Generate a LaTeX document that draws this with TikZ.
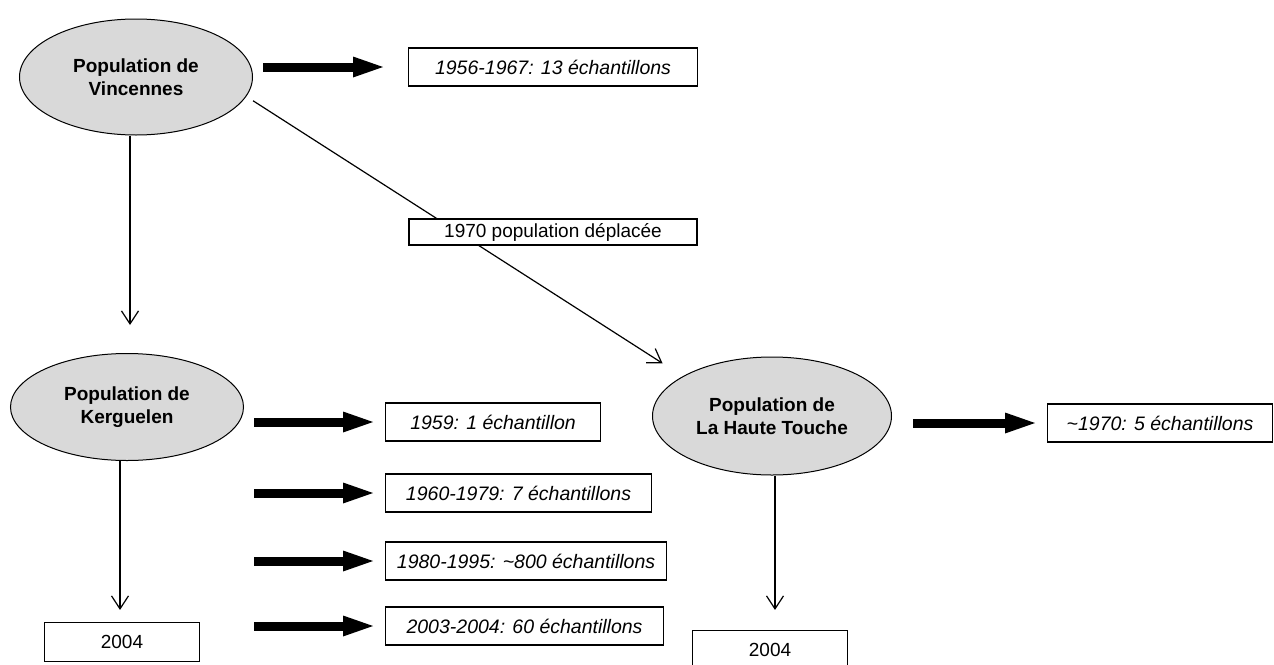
\documentclass[tikz,border=0pt]{standalone}
\usepackage{fontspec}
\setmainfont{Liberation Sans}
\usetikzlibrary{arrows.meta,positioning,shapes.geometric}
\definecolor{PopFill}{HTML}{D9D9D9}
\tikzset{pop/.style={ellipse,draw=black,line width=1pt,fill=PopFill,inner sep=0pt,
 align=center,font=\fontsize{19}{23}\selectfont\bfseries},
 sample/.style={draw,line width=1.1pt,fill=white,minimum height=38pt,anchor=west,
 font=\fontsize{19.5}{23}\selectfont\itshape},
 plain/.style={draw,line width=1.1pt,fill=white,font=\fontsize{19}{23}\selectfont},
 fat/.style={line width=9pt,-{Triangle[length=30pt,width=21pt,line width=0pt]}},
 link/.style={line width=1.2pt,-{Straight Barb[length=13pt,width=17pt]}}}
\begin{document}
\begin{tikzpicture}[x=1pt,y=-1pt]
\useasboundingbox (0,0) rectangle (1274,664);
\node[pop,minimum width=233pt,minimum height=116pt] (vin) at (136,77) {Population de\\Vincennes};
\node[pop,minimum width=233pt,minimum height=107pt] (ker) at (127,407) {Population de\\Kerguelen};
\node[pop,minimum width=239pt,minimum height=118pt] (tou) at (772,416) {Population de\\La Haute Touche};
% echantillons
\node[sample,minimum width=289pt] (s56) at (408,67) {1956-1967: 13 échantillons};
\node[sample,minimum width=215pt] (s59) at (385,422) {1959: 1 échantillon};
\node[sample,minimum width=266pt] (s60) at (385,493) {1960-1979: 7 échantillons};
\node[sample,minimum width=281pt] (s80) at (385,561) {1980-1995: \textasciitilde 800 échantillons};
\node[sample,minimum width=278pt] (s03) at (385,626) {2003-2004: 60 échantillons};
\node[sample,minimum width=225pt] (s70) at (1047,423) {\textasciitilde 1970: 5 échantillons};
\node[plain,minimum width=155pt,minimum height=39pt] (k04) at (122,642) {2004};
\node[plain,minimum width=155pt,minimum height=39pt] (t04) at (770,650) {2004};
% fleches
\draw[fat,shorten <=10pt,shorten >=25pt] (vin.east |- s56.west) -- (s56.west);
\foreach \b in {s59,s60,s80,s03}
 \draw[fat,shorten <=10pt,shorten >=12pt] (ker.east |- \b.west) -- (\b.west);
\draw[fat,shorten <=21pt,shorten >=12pt] (tou.east |- s70.west) -- (s70.west);
\draw[link,shorten >=28pt] ([xshift=-6pt]vin.south) -- ([xshift=-6pt]vin.south |- ker.north);
\draw[link,shorten >=12pt] ([xshift=-7pt]ker.south) -- ([xshift=-7pt]ker.south |- k04.north);
\draw[link,shorten >=20pt] ([xshift=3pt]tou.south) -- ([xshift=3pt]tou.south |- t04.north);
\draw[link,shorten <=8pt,shorten >=24pt] (vin.-10) -- (tou.156);
\node[plain,minimum width=288pt,minimum height=26pt,inner ysep=2pt] (move) at (553,232) {1970 population déplacée};
\end{tikzpicture}
\end{document}
